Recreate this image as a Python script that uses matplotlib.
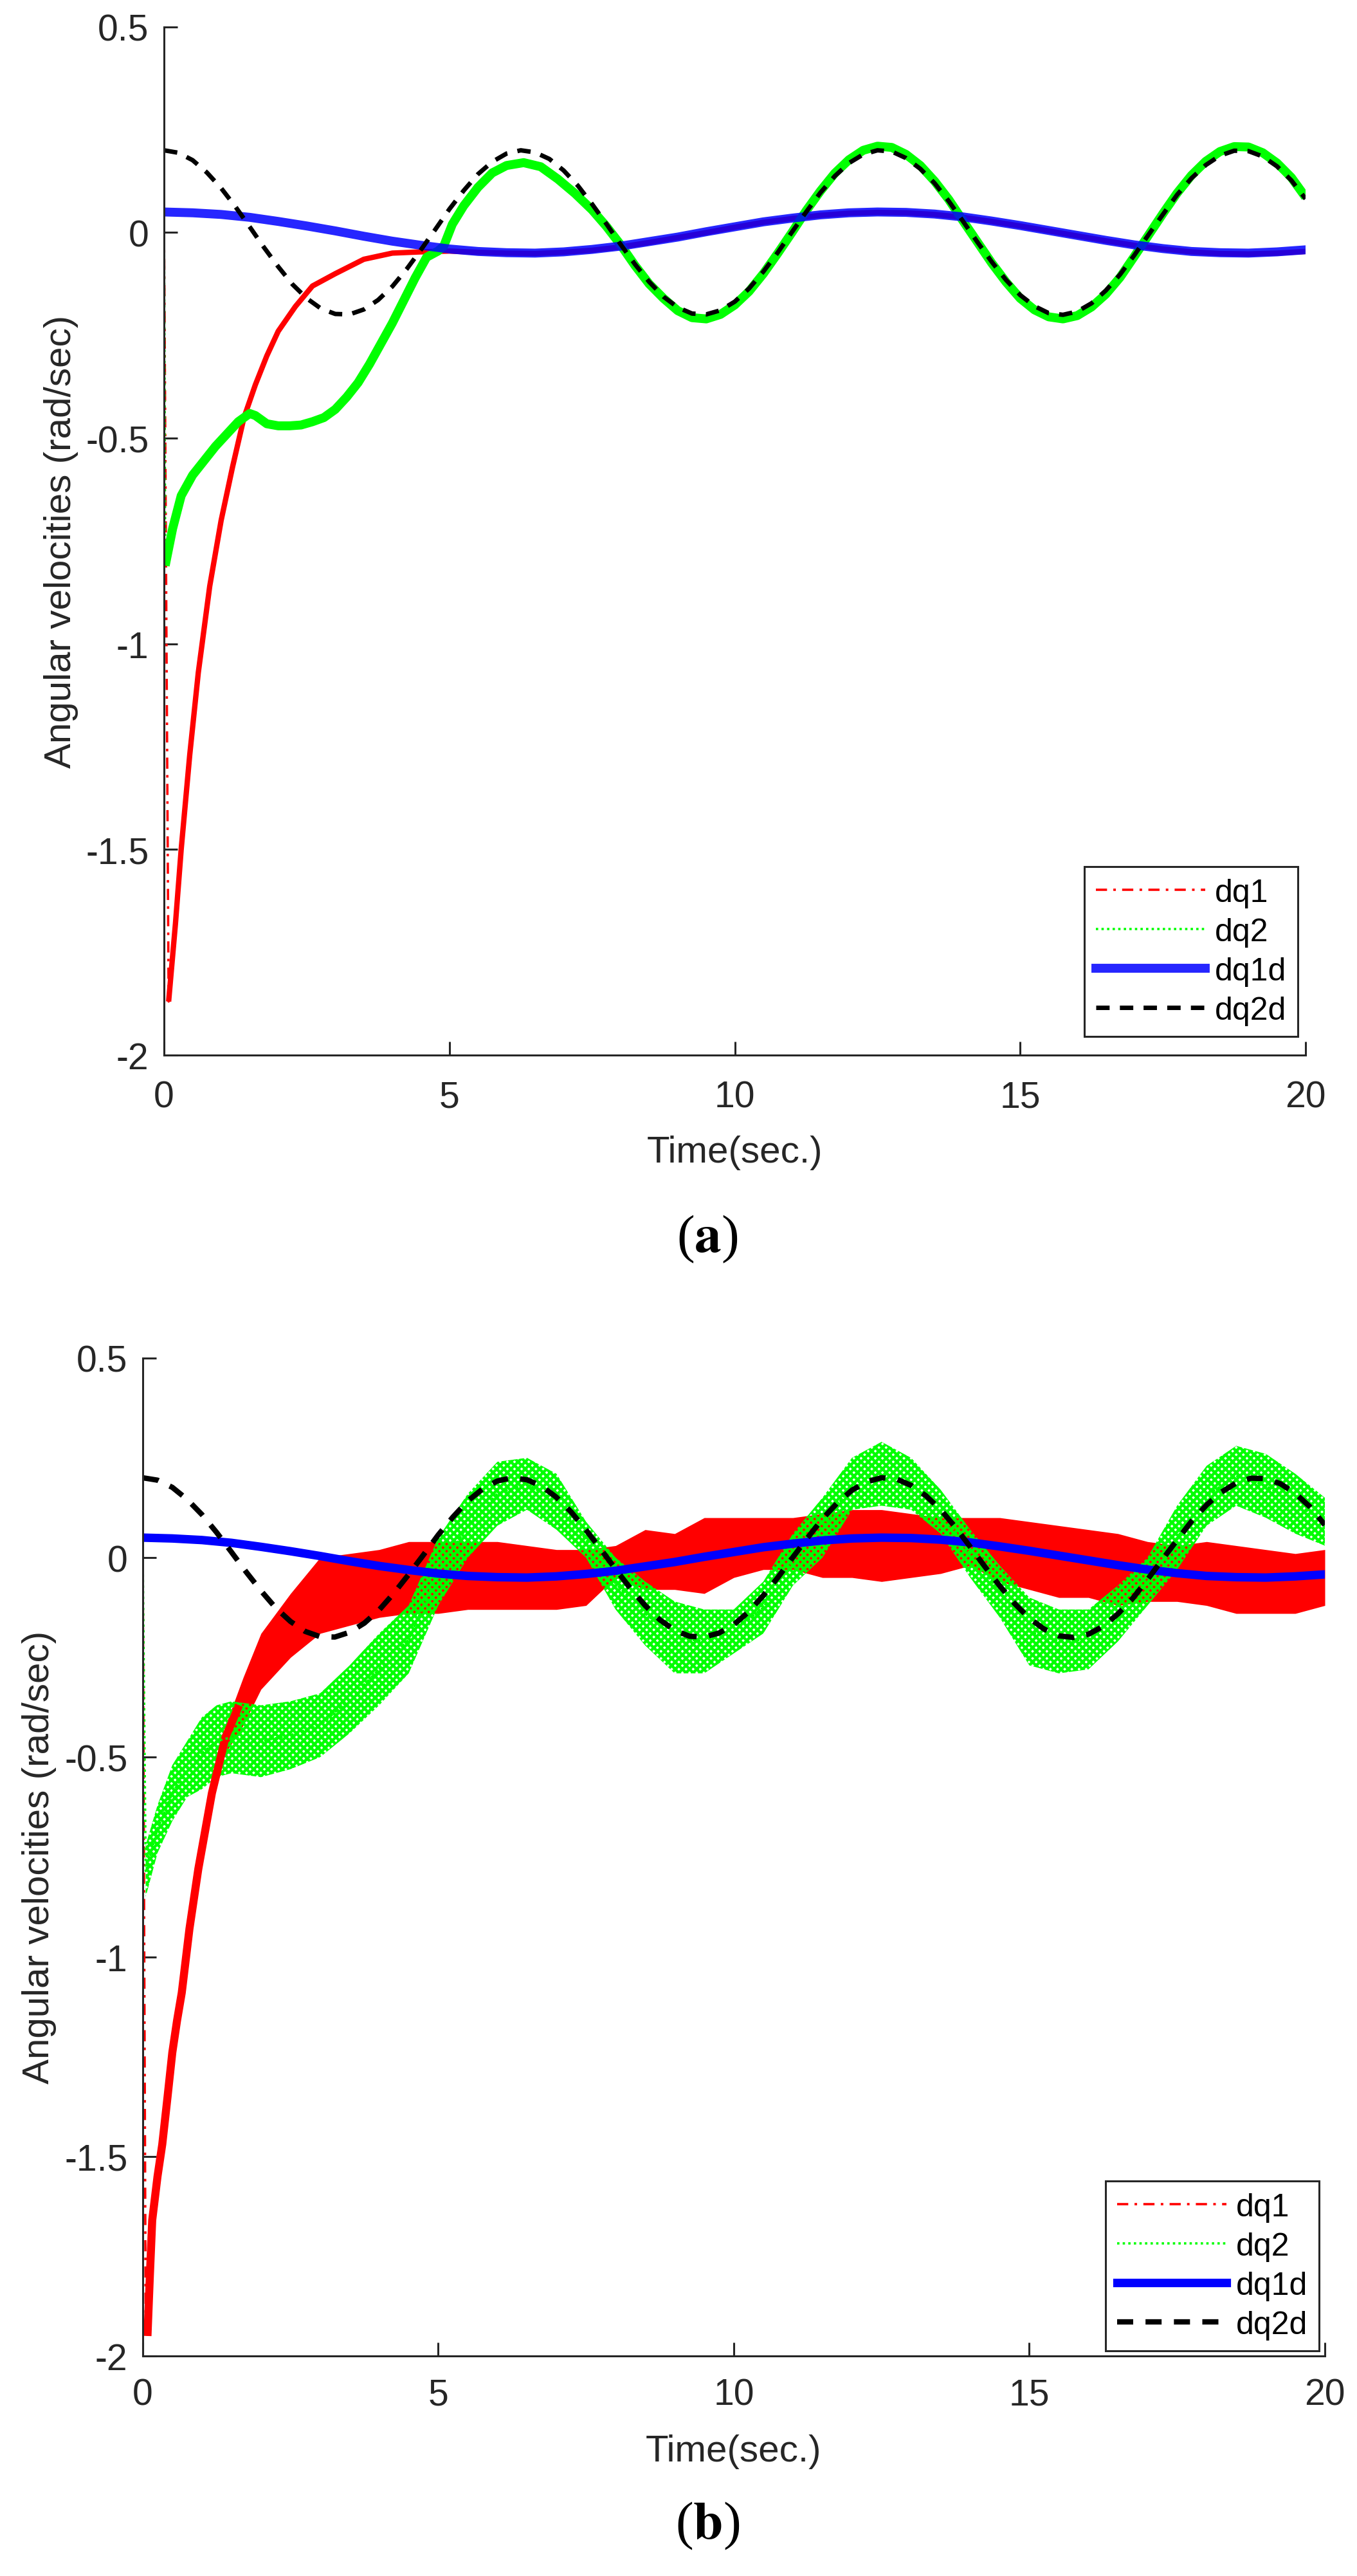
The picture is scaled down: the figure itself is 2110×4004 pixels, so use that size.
import numpy as np
import matplotlib
matplotlib.use("Agg")
import matplotlib.pyplot as plt

plt.rcParams["font.family"] = ["Liberation Sans", "DejaVu Sans"]
plt.rcParams["axes.unicode_minus"] = False
plt.rcParams["mathtext.fontset"] = "stix"
plt.rcParams["hatch.linewidth"] = 3.2

# ---------------- data ----------------
# desired trajectories (same in both panels)
t_dq2d = np.arange(0, 20.01, 0.25)
dq2d = [0.200, 0.194, 0.176, 0.146,
        0.108, 0.063, 0.014, -0.036,
        -0.083, -0.126, -0.160, -0.185,
        -0.198, -0.199, -0.187, -0.164,
        -0.131, -0.089, -0.042, 0.007,
        0.057, 0.102, 0.142, 0.172,
        0.192, 0.200, 0.195, 0.179,
        0.151, 0.114, 0.069, 0.021,
        -0.029, -0.077, -0.120, -0.156,
        -0.182, -0.197, -0.199, -0.189,
        -0.168, -0.136, -0.095, -0.049,
        0.001, 0.050, 0.097, 0.137,
        0.169, 0.190, 0.200, 0.197,
        0.181, 0.155, 0.120, 0.076,
        0.027, -0.023, -0.071, -0.115,
        -0.152, -0.179, -0.196, -0.200,
        -0.192, -0.172, -0.141, -0.102,
        -0.055, -0.005, 0.044, 0.092,
        0.132, 0.164, 0.187, 0.199,
        0.198, 0.185, 0.161, 0.127,
        0.082]

t_dq1d = np.arange(0, 20.01, 0.5)
dq1d = [0.050, 0.048, 0.044, 0.037, 0.027, 0.016, 0.004, -0.009, -0.021, -0.031,
        -0.040, -0.046, -0.049, -0.050, -0.047, -0.041, -0.033, -0.022, -0.011, 0.002,
        0.014, 0.026, 0.035, 0.043, 0.048, 0.050, 0.049, 0.045, 0.038, 0.028,
        0.017, 0.005, -0.007, -0.019, -0.030, -0.039, -0.046, -0.049, -0.050, -0.047,
        -0.042]

# panel (a)
t_a_dq1 = [0, 0.08, 0.2, 0.3, 0.45, 0.6, 0.8, 1.0, 1.2, 1.4, 1.6, 1.8, 2.0, 2.3, 2.6,
           3.0, 3.5, 4.0, 4.5, 5.0, 5.5, 6.0, 6.5, 7.0, 7.5, 8.0, 8.5, 9.0, 9.5, 10.0,
           10.5, 11.0, 11.5, 12.0, 12.5, 13.0, 13.5, 14.0, 14.5, 15.0, 15.5, 16.0, 16.5,
           17.0, 17.5, 18.0, 18.5, 19.0, 19.5, 20.0]
a_dq1 = [0.0, -1.87, -1.68, -1.50, -1.27, -1.07, -0.86, -0.70, -0.57, -0.45, -0.37, -0.30,
         -0.24, -0.18, -0.13, -0.10, -0.065, -0.05, -0.047, -0.045, -0.048, -0.050, -0.051,
         -0.048, -0.043, -0.035, -0.024, -0.012, 0.0, 0.013, 0.025, 0.034, 0.042, 0.047,
         0.049, 0.048, 0.044, 0.037, 0.027, 0.016, 0.004, -0.008, -0.020, -0.031, -0.040,
         -0.047, -0.051, -0.052, -0.050, -0.046]

t_a_dq2 = [0, 0.02, 0.15, 0.3, 0.5, 0.7, 0.9, 1.1, 1.3, 1.5, 1.6, 1.8, 2.0, 2.2, 2.4, 2.6,
           2.8, 3.0, 3.2, 3.4, 3.6, 3.8, 4.0, 4.2, 4.4, 4.6, 4.8, 4.9, 5.05, 5.25, 5.5, 5.75,
           6.0, 6.3, 6.6, 6.9, 7.2, 7.5, 7.75, 8.0, 8.25, 8.5, 8.75,
           9.0, 9.25, 9.5, 9.75, 10.0, 10.25, 10.5, 10.75, 11.0, 11.25, 11.5, 11.75,
           12.0, 12.25, 12.5, 12.75, 13.0, 13.25, 13.5, 13.75, 14.0, 14.25, 14.5, 14.75,
           15.0, 15.25, 15.5, 15.75, 16.0, 16.25, 16.5, 16.75, 17.0, 17.25, 17.5, 17.75,
           18.0, 18.25, 18.5, 18.75, 19.0, 19.25, 19.5, 19.75, 20.0]
a_dq2 = [0.0, -0.81, -0.72, -0.64, -0.59, -0.555, -0.52, -0.49, -0.46, -0.44,
         -0.445, -0.465, -0.47, -0.47, -0.468, -0.46, -0.45, -0.43, -0.40, -0.365,
         -0.32, -0.27, -0.22, -0.165, -0.11, -0.06, -0.045, -0.033, 0.02, 0.065,
         0.11, 0.145, 0.163, 0.17, 0.16, 0.13, 0.095, 0.055, 0.015, -0.03,
         -0.08, -0.125, -0.16,
         -0.19, -0.207, -0.21, -0.199, -0.176, -0.143, -0.10, -0.051,
         0.0, 0.053, 0.101, 0.144, 0.177, 0.20, 0.21, 0.207,
         0.19, 0.163, 0.125, 0.08, 0.028, -0.023, -0.074, -0.12,
         -0.16, -0.188, -0.205, -0.21, -0.202, -0.181, -0.15, -0.109,
         -0.058, -0.006, 0.046, 0.096, 0.139, 0.173, 0.197, 0.209,
         0.208, 0.194, 0.169, 0.134, 0.086]

# panel (b): start of dq1, then the chattering bands (upper / lower edges)
t_b_dq1 = [0, 0.05, 0.08, 0.12, 0.16, 0.25, 0.33, 0.42, 0.5, 0.58, 0.66, 0.79, 0.94,
           1.17, 1.4, 1.63]
b_dq1 = [0.0, -1.93, -1.95, -1.80, -1.66, -1.55, -1.47, -1.35, -1.24, -1.16, -1.09,
         -0.93, -0.78, -0.59, -0.45, -0.37]

t_b_dq1_band = [1.4, 1.7, 2.0, 2.5, 3.0, 3.5, 4.0, 4.5, 5.0, 5.5, 6.0, 6.5, 7.0, 7.5,
                8.0, 8.5, 9.0, 9.5, 10.0, 10.5, 11.0, 11.5, 12.0, 12.5, 13.0, 13.5,
                14.0, 14.5, 15.0, 15.5, 16.0, 16.5, 17.0, 17.5, 18.0, 18.5, 19.0,
                19.5, 20.0]
b_dq1_hi = [-0.42, -0.30, -0.19, -0.09, 0.00, 0.01, 0.02, 0.04, 0.04, 0.04, 0.04, 0.03,
            0.02, 0.02, 0.03, 0.07, 0.06, 0.10, 0.10, 0.10, 0.10, 0.11, 0.12, 0.12,
            0.11, 0.10, 0.10, 0.10, 0.09, 0.08, 0.07, 0.06, 0.04, 0.03, 0.04, 0.03,
            0.02, 0.01, 0.02]
b_dq1_lo = [-0.49, -0.42, -0.33, -0.25, -0.19, -0.17, -0.15, -0.14, -0.14, -0.13, -0.13,
            -0.13, -0.13, -0.12, -0.05, -0.08, -0.08, -0.09, -0.05, -0.03, -0.03, -0.05,
            -0.05, -0.06, -0.05, -0.04, -0.02, -0.06, -0.08, -0.10, -0.10, -0.12, -0.11,
            -0.11, -0.12, -0.14, -0.14, -0.14, -0.12]

t_b_dq2_band = [0.05, 0.25, 0.5, 0.75, 1.0, 1.25, 1.5, 2.0, 2.5, 3.0, 3.5, 4.0, 4.5,
                5.0, 5.5, 6.0, 6.5, 7.0, 7.5, 8.0, 8.5, 9.0, 9.5, 10.0, 10.5, 11.0,
                11.5, 12.0, 12.5, 13.0, 13.5, 14.0, 14.5, 15.0, 15.5, 16.0, 16.5,
                17.0, 17.5, 18.0, 18.5, 19.0, 19.5, 20.0]
b_dq2_hi = [-0.72, -0.62, -0.52, -0.46, -0.40, -0.37, -0.36, -0.37, -0.36, -0.34, -0.27,
            -0.19, -0.12, 0.05, 0.16, 0.24, 0.25, 0.21, 0.09, 0.00, -0.06, -0.11, -0.13,
            -0.13, -0.06, 0.06, 0.15, 0.25, 0.29, 0.25, 0.17, 0.07, -0.02, -0.10, -0.13,
            -0.13, -0.07, 0.00, 0.13, 0.23, 0.28, 0.26, 0.21, 0.15]
b_dq2_lo = [-0.85, -0.74, -0.66, -0.60, -0.58, -0.55, -0.54, -0.55, -0.53, -0.50, -0.44,
            -0.37, -0.29, -0.12, 0.00, 0.08, 0.12, 0.07, 0.00, -0.13, -0.22, -0.29, -0.29,
            -0.24, -0.19, -0.07, 0.00, 0.12, 0.13, 0.12, 0.06, -0.05, -0.15, -0.27, -0.29,
            -0.28, -0.21, -0.12, -0.03, 0.08, 0.13, 0.10, 0.06, 0.03]

labels = ["dq1", "dq2", "dq1d", "dq2d"]
xticks = [0, 5, 10, 15, 20]
yticks = [-2, -1.5, -1, -0.5, 0, 0.5]
ytick_labels = ["-2", "-1.5", "-1", "-0.5", "0", "0.5"]

# ---------------- styling ----------------
RED, GREEN, BLUE, BLACK = "#ff0000", "#00ff00", "#0000ff", "#000000"
AXC = "#262626"
DASHDOT = (0, (4.8, 2.7, 1.1, 2.7))
DOTTED = (0, (1.0, 1.4))
DASHED = (0, (3.0, 2.3))

fig = plt.figure(figsize=(21.1, 40.05), dpi=100)
ax_a = fig.add_axes([0.1209, 0.5903, 0.8412, 0.3990])
ax_b = fig.add_axes([0.1052, 0.0854, 0.8711, 0.3873])


def style_axes(ax, xpad, ylab_x, leg_anchor):
    ax.set_xlim(0, 20)
    ax.set_ylim(-2, 0.5)
    ax.set_xticks(xticks)
    ax.set_yticks(yticks)
    ax.set_yticklabels(ytick_labels)
    for s in ["top", "right"]:
        ax.spines[s].set_visible(False)
    for s in ["left", "bottom"]:
        ax.spines[s].set_linewidth(2.2)
        ax.spines[s].set_color(AXC)
    ax.tick_params(direction="in", length=15, width=2.2, colors=AXC, labelsize=41)
    ax.tick_params(axis="x", pad=xpad)
    ax.tick_params(axis="y", pad=17)
    ax.set_xlabel("Time(sec.)", fontsize=42, color=AXC)
    ax.xaxis.set_label_coords(0.5, -0.078)
    ax.set_ylabel("Angular velocities (rad/sec)", fontsize=42, color=AXC)
    ax.yaxis.set_label_coords(ylab_x, 0.5)
    leg = ax.legend(loc="lower right", bbox_to_anchor=leg_anchor, borderaxespad=0,
                    fontsize=36, handlelength=3.4, handletextpad=0.3,
                    labelspacing=0.3, borderpad=0.35, fancybox=False,
                    framealpha=1, edgecolor=AXC)
    leg.get_frame().set_linewidth(2.2)


# ---- panel (a) ----
ax_a.plot(t_a_dq1[1:], a_dq1[1:], color=RED, lw=6, solid_capstyle="butt")
ax_a.plot(t_a_dq1, a_dq1, color=RED, lw=2.6, linestyle=DASHDOT, label=labels[0])
ax_a.plot(t_a_dq2[1:], a_dq2[1:], color=GREEN, lw=10, solid_capstyle="butt")
ax_a.plot(t_a_dq2, a_dq2, color=GREEN, lw=2.6, linestyle=DOTTED, label=labels[1])
ax_a.plot(t_dq1d, dq1d, color=BLUE, lw=10, alpha=0.85, label=labels[2])
ax_a.plot(t_dq2d, dq2d, color=BLACK, lw=5, linestyle=DASHED, label=labels[3])
style_axes(ax_a, 28, -0.075, (0.993, 0.018))

# ---- panel (b) ----
ax_b.fill_between(t_b_dq1_band, b_dq1_lo, b_dq1_hi, color=RED, lw=0)
ax_b.plot(t_b_dq1[2:], b_dq1[2:], color=RED, lw=9, solid_capstyle="butt")
ax_b.plot(t_b_dq1, b_dq1, color=RED, lw=2.6, linestyle=DASHDOT, label=labels[0])
ax_b.fill_between(t_b_dq2_band, b_dq2_lo, b_dq2_hi, facecolor="none",
                  edgecolor=GREEN, hatch="xxx", lw=0)
b_dq2_mid = [(h + l) / 2 for h, l in zip(b_dq2_hi, b_dq2_lo)]
ax_b.plot([0] + t_b_dq2_band, [0.0] + b_dq2_mid, color=GREEN, lw=2.6,
          linestyle=DOTTED, label=labels[1])
ax_b.plot(t_dq1d, dq1d, color=BLUE, lw=9.5, label=labels[2])
ax_b.plot(t_dq2d, dq2d, color=BLACK, lw=6, linestyle=DASHED, label=labels[3])
style_axes(ax_b, 24, -0.073, (0.995, 0.005))

# sub-figure captions
fig.text(0.5213, 0.5191, r"($\mathbf{a}$)", fontsize=60, family="Liberation Serif",
         ha="center", va="center")
fig.text(0.5213, 0.0197, r"($\mathbf{b}$)", fontsize=60, family="Liberation Serif",
         ha="center", va="center")

fig.savefig("out.png", dpi=100)
